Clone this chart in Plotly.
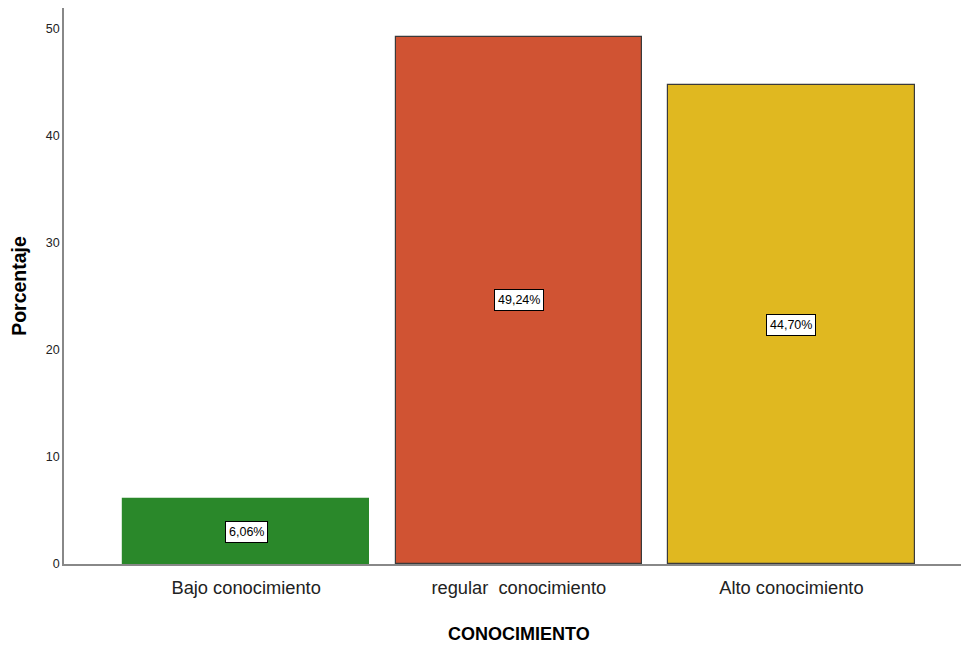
import plotly.graph_objects as go

categories = ["Bajo conocimiento", "regular  conocimiento", "Alto conocimiento"]
values = [6.06, 49.24, 44.70]
labels = ["6,06%", "49,24%", "44,70%"]
colors = ["#2a882a", "#d05333", "#e0b820"]
outline = ["#2a882a", "#3a3a3a", "#3a3a3a"]
y_ticks = [0, 10, 20, 30, 40, 50]

FONT = "Liberation Sans, Arial, sans-serif"

fig = go.Figure()
fig.add_trace(go.Bar(
    x=list(range(len(categories))), y=values,
    width=0.903,
    marker=dict(color=colors, line=dict(color=outline, width=1.2)),
    hoverinfo="skip",
))

for i, (v, t) in enumerate(zip(values, labels)):
    fig.add_annotation(
        x=i, y=v / 2, text=t, showarrow=False,
        font=dict(family=FONT, size=12.5, color="black"),
        bgcolor="white", bordercolor="black", borderwidth=1, borderpad=3,
    )

fig.add_annotation(
    x=1, xref="x", y=-0.148, yref="paper", text="<b>CONOCIMIENTO</b>",
    showarrow=False, font=dict(family=FONT, size=18, color="black"),
)

fig.update_layout(
    width=961, height=646,
    margin=dict(l=64, r=0, t=8, b=82),
    paper_bgcolor="white", plot_bgcolor="white",
    showlegend=False,
    bargap=0,
    xaxis=dict(
        range=[-0.668, 2.622],
        tickmode="array", tickvals=list(range(len(categories))), ticktext=categories,
        tickfont=dict(family=FONT, size=18.3, color="#222"),
        ticklabelstandoff=6,
        showline=True, linecolor="#888", linewidth=1.5,
        showgrid=False, zeroline=False, ticks="",
    ),
    yaxis=dict(
        range=[0, 51.9],
        tickmode="array", tickvals=y_ticks,
        tickfont=dict(family=FONT, size=12.5, color="#222"),
        showline=True, linecolor="#888", linewidth=1.5,
        showgrid=False, zeroline=False, ticks="", ticklen=0,
        title=dict(text="<b>Porcentaje</b>", font=dict(family=FONT, size=19.5, color="black"), standoff=14),
    ),
)

fig.write_html("out.html")
